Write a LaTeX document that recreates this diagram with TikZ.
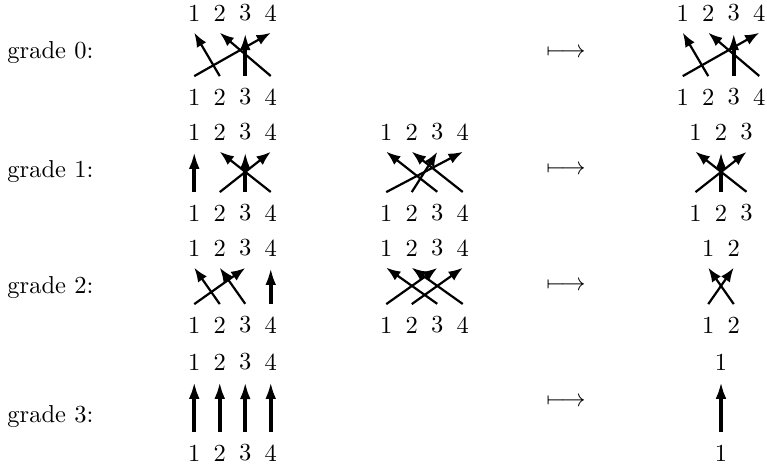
\documentclass[tikz,border=0pt]{standalone}
\usepackage{amsmath}
\usepackage{tikz}
\usetikzlibrary{arrows.meta}

\begin{document}
\begin{tikzpicture}[
  x=0.408pt, y=-0.408pt,
  lbl/.style={inner sep=0pt},
  gradelbl/.style={anchor=west, inner sep=0pt},
  moved/.style={line width=0.9pt, -{Latex[length=5.8pt,width=4.4pt]}},
  fixed/.style={line width=1.5pt, -{Latex[length=7pt,width=4.4pt]}},
]

\useasboundingbox (0,0) rectangle (767,470);

%% ── Row labels and maps ──────────────────────────────────────────
\node[gradelbl] (grade0) at (7,53)  {grade 0:};
\node[gradelbl] (grade1) at (7,172) {grade 1:};
\node[gradelbl] (grade2) at (7,288) {grade 2:};
\node[gradelbl] (grade3) at (7,417) {grade 3:};

\node (map0) at (566,53)  {$\longmapsto$};
\node (map1) at (566,170) {$\longmapsto$};
\node (map2) at (566,286) {$\longmapsto$};
\node (map3) at (566,402) {$\longmapsto$};

%% ── Strand end labels (top t, bottom b) ──────────────────────────
\foreach \dia/\xo/\n/\yt/\yb in {
    l0/194.25/4/13/97,   r0/682.75/4/13/97,
    l1/194.25/4/132/213, m1/386.25/4/132/213, r1/695.5/3/132/213,
    l2/194.25/4/248/325, m2/386.25/4/248/325, r2/708.25/2/248/325,
    l3/194.25/4/362/453, r3/721/1/362/453}
  \foreach \i in {1,...,\n} {
    \node[lbl] (\dia t\i) at ({\xo+25.5*(\i-1)},\yt) {\i};
    \node[lbl] (\dia b\i) at ({\xo+25.5*(\i-1)},\yb) {\i};
  }

%% ── Moved strands (bottom -> top) ────────────────────────────────
\foreach \dia/\perm in {
    l0/{2/1,1/4,4/2}, r0/{2/1,1/4,4/2},
    l1/{2/4,4/2}, m1/{3/1,1/4,4/2,2/3}, r1/{1/3,3/1},
    l2/{2/1,1/3,3/2}, m2/{1/3,2/4,3/1,4/2}, r2/{1/2,2/1}}
  \foreach \s/\e in \perm
    \draw[moved] ([yshift=5pt]\dia b\s.north) -- ([yshift=-4.5pt]\dia t\e.south);

%% ── Fixed strands ────────────────────────────────────────────────
\foreach \dia/\pts in {
    l0/{3}, r0/{3}, l1/{1,3}, r1/{2}, l2/{4}, l3/{1,2,3,4}, r3/{1}}
  \foreach \s in \pts
    \draw[fixed] ([yshift=5pt]\dia b\s.north) -- ([yshift=-4.5pt]\dia t\s.south);

\end{tikzpicture}
\end{document}
